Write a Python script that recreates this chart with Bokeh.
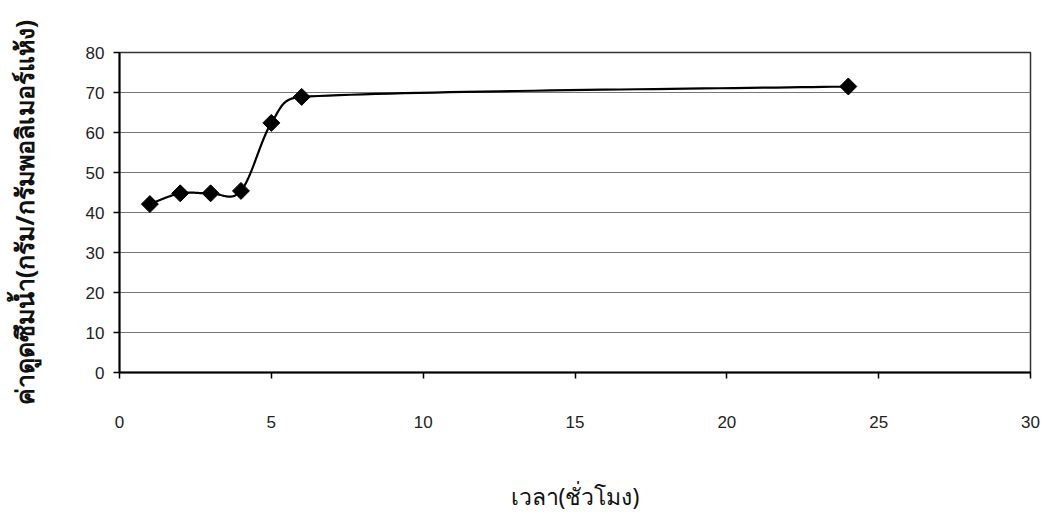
import numpy as np
from bokeh.plotting import figure
from bokeh.models import Range1d, FixedTicker
from bokeh.embed import file_html
from bokeh.resources import INLINE

# Water absorption versus soaking time
hours = [1, 2, 3, 4, 5, 6, 24]
absorption = [42.1, 44.8, 44.8, 45.4, 62.4, 68.9, 71.5]

x_ticks = [0, 5, 10, 15, 20, 25, 30]
y_ticks = [0, 10, 20, 30, 40, 50, 60, 70, 80]

W, H = 1044, 519
LEFT, RIGHT, TOP, BOTTOM = 119, 1030, 52, 372
X_MIN, X_MAX, Y_MIN, Y_MAX = 0, 30, 0, 80


def smooth_curve(xs, ys, n=40):
    """Spreadsheet-style smoothed line: cubic Bezier segments whose handles
    follow neighbouring points, limited so they never overrun a segment."""
    sx = (RIGHT - LEFT) / (X_MAX - X_MIN)
    sy = (BOTTOM - TOP) / (Y_MAX - Y_MIN)
    P = np.column_stack([np.asarray(xs, float) * sx, np.asarray(ys, float) * sy])
    m = len(P)
    out = []
    for i in range(m - 1):
        p0, p1 = P[i], P[i + 1]
        prev = P[i - 1] if i > 0 else p0
        nxt = P[i + 2] if i + 2 < m else p1
        seg = np.linalg.norm(p1 - p0)
        t0 = p1 - prev
        t1 = nxt - p0
        l0 = min(np.linalg.norm(t0) / 6, 0.5 * seg)
        l1 = min(np.linalg.norm(t1) / 6, 0.5 * seg)
        c0 = p0 + t0 / (np.linalg.norm(t0) or 1) * l0
        c1 = p1 - t1 / (np.linalg.norm(t1) or 1) * l1
        t = np.linspace(0, 1, n)[:, None]
        pts = ((1 - t) ** 3) * p0 + 3 * ((1 - t) ** 2) * t * c0 + 3 * (1 - t) * t ** 2 * c1 + t ** 3 * p1
        out.append(pts if i == 0 else pts[1:])
    pts = np.vstack(out)
    return pts[:, 0] / sx, pts[:, 1] / sy


p = figure(
    width=W, height=H,
    x_range=Range1d(X_MIN, X_MAX), y_range=Range1d(Y_MIN, Y_MAX),
    output_backend="svg", toolbar_location=None,
    min_border_left=LEFT, min_border_right=W - RIGHT,
    min_border_top=TOP, min_border_bottom=H - BOTTOM,
)
p.background_fill_color = "white"
p.border_fill_color = "white"
p.outline_line_color = "#333333"
p.outline_line_width = 1.5

cx, cy = smooth_curve(hours, absorption)
p.line(cx, cy, line_color="black", line_width=2.2)
p.scatter(hours, absorption, marker="square", angle=np.pi / 4, size=12,
          fill_color="black", line_color="black")

p.xgrid.visible = False
p.ygrid.grid_line_color = "#777777"
p.ygrid.grid_line_width = 1
p.ygrid.ticker = FixedTicker(ticks=y_ticks)

for ax in (p.xaxis[0], p.yaxis[0]):
    ax.axis_line_color = "black"
    ax.axis_line_width = 2
    ax.major_tick_line_color = "black"
    ax.major_tick_line_width = 1.5
    ax.major_tick_in = 0
    ax.major_tick_out = 6
    ax.minor_tick_line_color = None
    ax.major_label_text_font = "Liberation Sans"
    ax.major_label_text_font_size = "17px"
    ax.major_label_text_color = "#222222"

p.xaxis.ticker = FixedTicker(ticks=x_ticks)
p.yaxis.ticker = FixedTicker(ticks=y_ticks)
p.xaxis.major_label_standoff = 37
p.yaxis.major_label_standoff = 9

p.xaxis.axis_label = "เวลา(ชั่วโมง)"
p.xaxis.axis_label_text_font = "Noto Sans"
p.xaxis.axis_label_text_font_size = "23px"
p.xaxis.axis_label_text_font_style = "normal"
p.xaxis.axis_label_text_color = "#111111"
p.xaxis.axis_label_standoff = 49

p.yaxis.axis_label = "ค่าดูดซึมน้ำ(กรัม/กรัมพอลิเมอร์แห้ง)"
p.yaxis.axis_label_text_font = "Noto Sans"
p.yaxis.axis_label_text_font_size = "25px"
p.yaxis.axis_label_text_font_style = "bold"
p.yaxis.axis_label_text_color = "#111111"
p.yaxis.axis_label_standoff = 42

open("out.html", "w").write(file_html(p, INLINE))
